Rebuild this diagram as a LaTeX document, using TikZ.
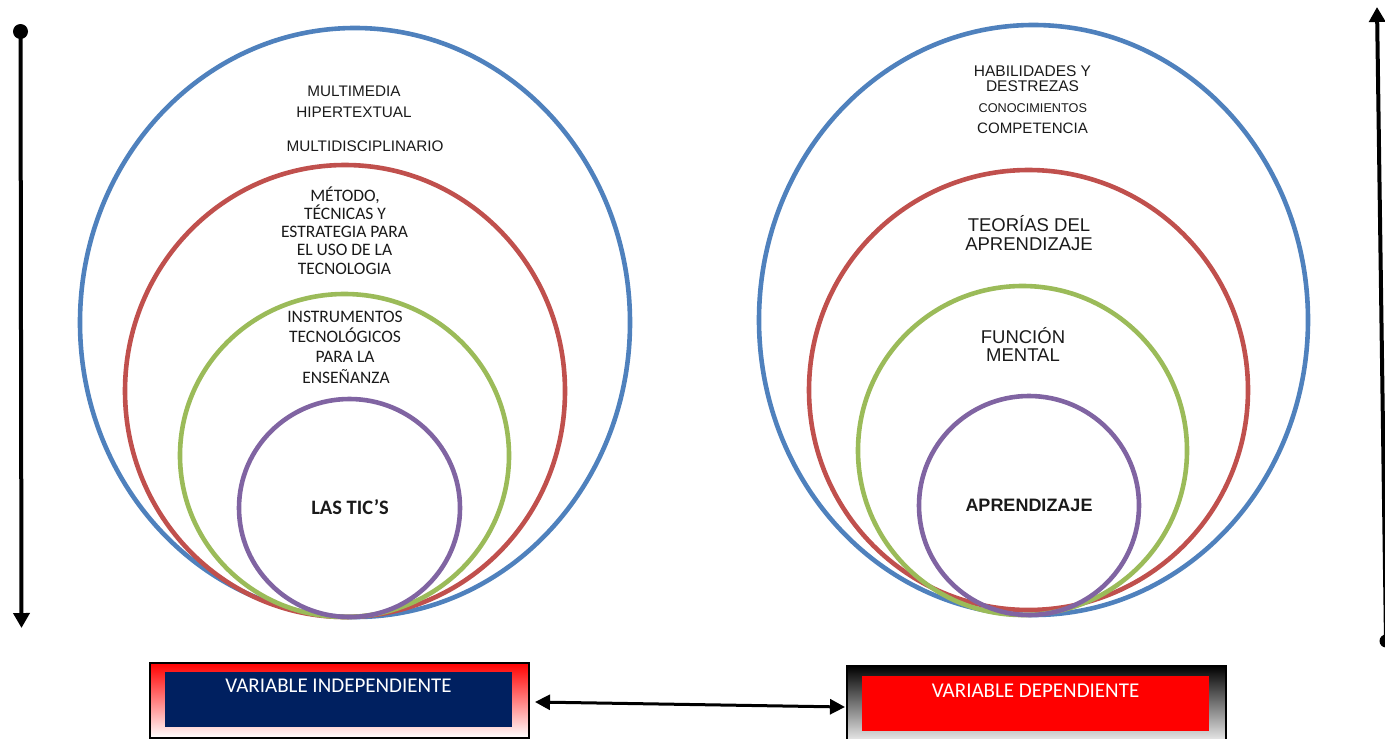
\documentclass[tikz,border=0pt]{standalone}
\usepackage{fontspec}
\setmainfont{Liberation Sans}
\newfontfamily\calib{Carlito}
\usetikzlibrary{arrows.meta}
\definecolor{cblue}{HTML}{4F81BD}
\definecolor{cred}{HTML}{C0504D}
\definecolor{cgreen}{HTML}{9BBB59}
\definecolor{cpurple}{HTML}{8064A2}
\definecolor{navy}{HTML}{002060}
\definecolor{txt}{HTML}{1A1A1A}
\tikzset{
  ring/.style={line width=4.6pt},
  ln/.style={anchor=base, inner sep=0pt, text=txt},
  ar/.style={font=\fontsize{15.3}{18}\selectfont},
  arb/.style={font=\fontsize{18.5}{22}\selectfont},
  cb/.style={font=\calib\fontsize{17.5}{20}\selectfont},
  outerbox/.style={draw=black, line width=1.5pt, anchor=north west, inner sep=0pt},
  innerbox/.style={anchor=north west, inner sep=0pt, minimum width=347pt, minimum height=55pt},
  boxtext/.style={anchor=base, inner sep=0pt, text=white, font=\calib\fontsize{21}{24}\selectfont},
  dot/.style={circle, fill=black, inner sep=0pt, minimum size=15pt},
  vline/.style={line width=4pt, -{Triangle[length=15pt,width=16pt]}},
  harrow/.style={line width=3pt, {Triangle[length=15pt,width=15pt]}-{Triangle[length=15pt,width=15pt]}}
}
\begin{document}
\begin{tikzpicture}[x=1pt,y=-1pt]
\useasboundingbox (0,0) rectangle (1385,739);
\clip (0,0) rectangle (1385,739);
% left rings
\draw[ring, cblue]   (355,322.5) ellipse [x radius=275, y radius=294.5];
\draw[ring, cred]    (345,391)   ellipse [x radius=220, y radius=226];
\draw[ring, cgreen]  (344.5,455.5) ellipse [x radius=164.5, y radius=161.5];
\draw[ring, cpurple] (349.5,508) ellipse [x radius=110.5, y radius=109];
% right rings
\draw[ring, cblue]   (1033.5,320) ellipse [x radius=274.5, y radius=295];
\draw[ring, cred]    (1028.5,390) ellipse [x radius=219.5, y radius=220];
\draw[ring, cgreen]  (1022.5,450.5) ellipse [x radius=164.5, y radius=164.5];
\draw[ring, cpurple] (1029,505.5) ellipse [x radius=110, y radius=109.5];
% left texts
\node[ln, ar] (l1) at (354,96) {MULTIMEDIA};
\node[ln, ar] (l2) at (354,117.7) {HIPERTEXTUAL};
\node[ln, ar] (l3) at (365,151.7) {MULTIDISCIPLINARIO};
\node[ln, cb] (m1) at (345,201.7) {MÉTODO,};
\node[ln, cb] (m2) at (345,219.5) {TÉCNICAS Y};
\node[ln, cb] (m3) at (344.5,237.5) {ESTRATEGIA PARA};
\node[ln, cb] (m4) at (344.5,255.7) {EL USO DE LA};
\node[ln, cb] (m5) at (344.5,274) {TECNOLOGIA};
\node[ln, cb] (i1) at (345,322.3) {INSTRUMENTOS};
\node[ln, cb] (i2) at (345,342.3) {TECNOLÓGICOS};
\node[ln, cb] (i3) at (345,362.3) {PARA LA};
\node[ln, cb] (i4) at (346,383.3) {ENSEÑANZA};
\node[ln, font=\calib\bfseries\fontsize{20.5}{22}\selectfont] (tic) at (350,514.5) {LAS TIC’S};
% right texts
\node[ln, font=\fontsize{15.5}{18}\selectfont] (r1) at (1032.5,76) {HABILIDADES Y};
\node[ln, font=\fontsize{15.5}{18}\selectfont] (r2) at (1032.5,91) {DESTREZAS};
\node[ln, font=\fontsize{12.7}{15}\selectfont] (r3) at (1032.8,112.7) {CONOCIMIENTOS};
\node[ln, font=\fontsize{15.1}{18}\selectfont] (r4) at (1032.5,133.3) {COMPETENCIA};
\node[ln, arb] (t1) at (1029,231.7) {TEORÍAS DEL};
\node[ln, arb] (t2) at (1029,250) {APRENDIZAJE};
\node[ln, arb] (f1) at (1023,343.3) {FUNCIÓN};
\node[ln, arb] (f2) at (1023,361.7) {MENTAL};
\node[ln, font=\bfseries\fontsize{18}{22}\selectfont] (apr) at (1029,511.5) {APRENDIZAJE};
% boxes
\node[outerbox, top color=red, bottom color=white, minimum width=379pt, minimum height=75pt] (vibox) at (149,662) {};
\node[innerbox, fill=navy] (viin) at (165,672) {};
\node[boxtext] (vitext) at (338.5,692) {VARIABLE INDEPENDIENTE};
\node[outerbox, top color=black, bottom color=white, minimum width=379pt, minimum height=82pt] (vdbox) at (846,665) {};
\node[innerbox, fill=red] (vdin) at (862,676) {};
\node[boxtext] (vdtext) at (1035.5,697) {VARIABLE DEPENDIENTE};
% arrows
\coordinate (ha) at (535,702);
\coordinate (hb) at (845,707);
\draw[harrow] (ha) -- (hb);
\node[dot] (ldot) at (20.5,31.5) {};
\coordinate (ltip) at (21.5,628);
\draw[vline] (ldot.center) -- (ltip);
\node[dot, minimum size=13pt] (rdot) at (1386,641) {};
\coordinate (rtip) at (1377,7);
\draw[vline] (rdot.center) -- (rtip);
\end{tikzpicture}
\end{document}
